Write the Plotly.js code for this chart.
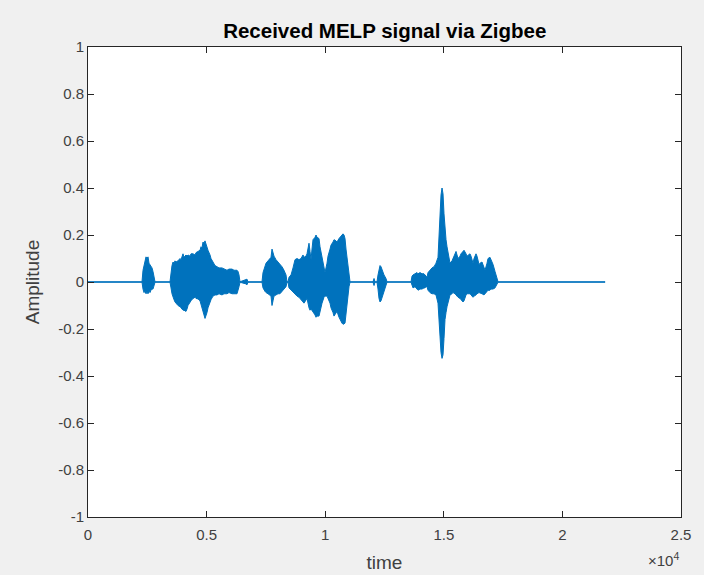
<!DOCTYPE html>
<html>
<head>
<meta charset="utf-8">
<script src="https://cdn.plot.ly/plotly-3.0.1.min.js"></script>
<style>
  html, body { margin: 0; padding: 0; background: #f0f0f0; }
  #chart { width: 704px; height: 575px; }
</style>
</head>
<body>
<div id="chart"></div>
<script>
// Envelope of the received waveform (sample index, upper peak, lower peak)
var timeKnots = [
  0, 2277, 2319, 2361, 2403, 2445, 2487, 2530, 2572, 2614, 2656, 2698, 2740, 2783, 2825,
  3457, 3499, 3541, 3584, 3626, 3668, 3710, 3794, 3879, 3921, 4005, 4047, 4132, 4174, 4216,
  4300, 4342, 4427, 4511, 4553, 4638, 4722, 4764, 4806, 4848, 4890, 4933, 4975, 5017, 5059,
  5144, 5186, 5270, 5354, 5439, 5523, 5649, 5734, 5860, 5944, 6071, 6155, 6282, 6324, 6366,
  6408, 6660, 6703, 6745,
  7336, 7378, 7462, 7505, 7589, 7673, 7715, 7757, 7800, 7842, 7926, 8010, 8094, 8179, 8263,
  8348, 8390,
  8432, 8474, 8559, 8643, 8727, 8812, 8896, 8980, 9064, 9106, 9191, 9233, 9317, 9360, 9402,
  9444, 9486, 9570, 9613, 9655, 9739, 9781, 9866, 9950, 9992, 10076, 10118, 10203, 10245,
  10329, 10371, 10456, 10498, 10582, 10624, 10708, 10751, 10793, 10835, 10877, 10919, 10962,
  11004, 11046,
  12016, 12058, 12100, 12184, 12226, 12268, 12311, 12353, 12395, 12479, 12563, 12605,
  13618, 13660, 13702, 13786, 13870, 13913, 13997, 14081, 14165, 14208, 14250, 14292,
  14334, 14418, 14503, 14587, 14671, 14756, 14798, 14840, 14882, 14925, 14967, 15009, 15051,
  15094, 15136, 15178, 15262, 15347, 15389, 15473, 15515, 15600, 15684, 15726, 15810, 15853,
  15937, 15979, 16105, 16148, 16232, 16274, 16358, 16400, 16485, 16527, 16611, 16695, 16738,
  16822, 16864, 16948, 16991, 17075, 17159, 17202, 17244, 17286, 21797
];
var upperEnv = [
  0.001, 0.001, 0.05, 0.07, 0.09, 0.107, 0.10, 0.107, 0.08, 0.075, 0.065, 0.06, 0.045, 0.02, 0.001,
  0.001, 0.04, 0.07, 0.085, 0.08, 0.09, 0.085, 0.09, 0.10, 0.095, 0.12, 0.105, 0.115, 0.11, 0.115,
  0.11, 0.12, 0.12, 0.115, 0.125, 0.13, 0.135, 0.15, 0.145, 0.17, 0.165, 0.175, 0.16, 0.15, 0.135,
  0.115, 0.10, 0.085, 0.07, 0.065, 0.06, 0.06, 0.055, 0.05, 0.055, 0.055, 0.05, 0.05, 0.045, 0.03,
  0.001, 0.008, 0.012, 0.001,
  0.001, 0.04, 0.07, 0.08, 0.09, 0.10, 0.105, 0.14, 0.125, 0.11, 0.095, 0.085, 0.075, 0.065, 0.05,
  0.03, 0.001,
  0.001, 0.02, 0.03, 0.06, 0.095, 0.10, 0.095, 0.10, 0.115, 0.105, 0.11, 0.12, 0.165, 0.13, 0.095,
  0.14, 0.18, 0.19, 0.20, 0.19, 0.185, 0.15, 0.105, 0.06, 0.04, 0.08, 0.11, 0.14, 0.157,
  0.17, 0.18, 0.175, 0.17, 0.185, 0.19, 0.20, 0.205, 0.20, 0.185, 0.14, 0.105, 0.06,
  0.02, 0.001,
  0.001, 0.015, 0.001, 0.001, 0.03, 0.06, 0.07, 0.065, 0.05, 0.03, 0.015, 0.001,
  0.001, 0.025, 0.03, 0.035, 0.04, 0.035, 0.04, 0.035, 0.035, 0.03, 0.025, 0.02,
  0.04, 0.05, 0.06, 0.065, 0.08, 0.105, 0.22, 0.305, 0.37, 0.40, 0.375, 0.29, 0.21,
  0.18, 0.15, 0.12, 0.08, 0.09, 0.10, 0.12, 0.13, 0.10, 0.11, 0.12, 0.13, 0.135,
  0.12, 0.11, 0.12, 0.11, 0.08, 0.10, 0.12, 0.11, 0.075, 0.08, 0.085, 0.06, 0.05,
  0.08, 0.10, 0.105, 0.095, 0.075, 0.045, 0.025, 0.01, 0.001, 0.001
];
var lowerEnv = [
  -0.001, -0.001, -0.03, -0.045, -0.04, -0.05, -0.045, -0.05, -0.04, -0.045, -0.035, -0.03, -0.03, -0.015, -0.001,
  -0.001, -0.025, -0.05, -0.065, -0.075, -0.085, -0.09, -0.10, -0.105, -0.11, -0.12, -0.12, -0.125, -0.115, -0.10,
  -0.085, -0.08, -0.07, -0.065, -0.07, -0.072, -0.08, -0.10, -0.11, -0.125, -0.14, -0.155, -0.15, -0.13, -0.11,
  -0.085, -0.075, -0.06, -0.055, -0.055, -0.05, -0.055, -0.05, -0.05, -0.045, -0.05, -0.05, -0.05, -0.04, -0.02,
  -0.001, -0.008, -0.012, -0.001,
  -0.001, -0.025, -0.04, -0.045, -0.05, -0.055, -0.06, -0.10, -0.08, -0.06, -0.055, -0.05, -0.05, -0.04, -0.03,
  -0.02, -0.001,
  -0.001, -0.025, -0.035, -0.045, -0.05, -0.06, -0.065, -0.075, -0.085, -0.09, -0.075, -0.07, -0.11, -0.12, -0.115,
  -0.12, -0.125, -0.14, -0.15, -0.145, -0.145, -0.12, -0.09, -0.065, -0.06, -0.06, -0.065, -0.09, -0.11,
  -0.13, -0.145, -0.13, -0.125, -0.15, -0.16, -0.175, -0.18, -0.178, -0.175, -0.14, -0.11, -0.06,
  -0.02, -0.001,
  -0.001, -0.015, -0.001, -0.001, -0.03, -0.07, -0.085, -0.08, -0.06, -0.035, -0.015, -0.001,
  -0.001, -0.015, -0.025, -0.02, -0.03, -0.035, -0.03, -0.03, -0.025, -0.025, -0.02, -0.02,
  -0.035, -0.045, -0.05, -0.05, -0.055, -0.09, -0.16, -0.23, -0.30, -0.325, -0.31, -0.24, -0.16,
  -0.13, -0.105, -0.085, -0.055, -0.05, -0.045, -0.05, -0.055, -0.065, -0.07, -0.075, -0.085, -0.08,
  -0.055, -0.05, -0.05, -0.055, -0.065, -0.06, -0.055, -0.05, -0.045, -0.045, -0.05, -0.055, -0.05,
  -0.04, -0.035, -0.035, -0.03, -0.03, -0.025, -0.02, -0.01, -0.001, -0.001
];

var xTickVals = [0, 5000, 10000, 15000, 20000, 25000];
var xTickText = ["0", "0.5", "1", "1.5", "2", "2.5"];
var yTickVals = [-1, -0.8, -0.6, -0.4, -0.2, 0, 0.2, 0.4, 0.6, 0.8, 1];
var yTickText = ["-1", "-0.8", "-0.6", "-0.4", "-0.2", "0", "0.2", "0.4", "0.6", "0.8", "1"];

// Closed outline: upper envelope forward, lower envelope back
var polyX = timeKnots.concat(timeKnots.slice().reverse());
var polyY = upperEnv.concat(lowerEnv.slice().reverse());

var blue = '#0072BD';
var axColor = '#262626';
var font = 'Liberation Sans, Arial, Helvetica, sans-serif';

var trace = {
  x: polyX, y: polyY, type: 'scatter', mode: 'lines',
  fill: 'toself', fillcolor: blue,
  line: {color: blue, width: 1},
  hoverinfo: 'skip', showlegend: false
};

var axisCommon = {
  showgrid: false, zeroline: false, showline: true, mirror: 'ticks',
  linecolor: axColor, linewidth: 1, ticks: 'inside', ticklen: 6, tickwidth: 1,
  tickcolor: axColor, tickfont: {family: font, size: 15, color: '#404040'}
};

var layout = {
  width: 704, height: 575,
  paper_bgcolor: '#f0f0f0', plot_bgcolor: '#ffffff',
  margin: {l: 88, r: 23, t: 47, b: 58},
  title: {text: '<b>Received MELP signal via Zigbee</b>', font: {family: font, size: 20.5, color: '#000'},
          x: 0.5465, xanchor: 'center', y: 1 - 31 / 575, yanchor: 'middle'},
  xaxis: Object.assign({}, axisCommon, {
    range: [0, 25000], tickvals: xTickVals, ticktext: xTickText, ticklabelstandoff: 4,
    title: {text: 'time', font: {family: font, size: 19, color: '#404040'}, standoff: 13}
  }),
  yaxis: Object.assign({}, axisCommon, {
    range: [-1, 1], tickvals: yTickVals, ticktext: yTickText,
    title: {text: 'Amplitude', font: {family: font, size: 19, color: '#404040'}, standoff: 13}
  }),
  annotations: [{
    text: '×10<sup>4</sup>', xref: 'paper', yref: 'paper', x: 1.0, y: 0,
    xanchor: 'right', yanchor: 'top', yshift: -31, showarrow: false,
    font: {family: font, size: 15, color: '#404040'}
  }]
};

Plotly.newPlot('chart', [trace], layout, {displayModeBar: false, staticPlot: true});
</script>
</body>
</html>
